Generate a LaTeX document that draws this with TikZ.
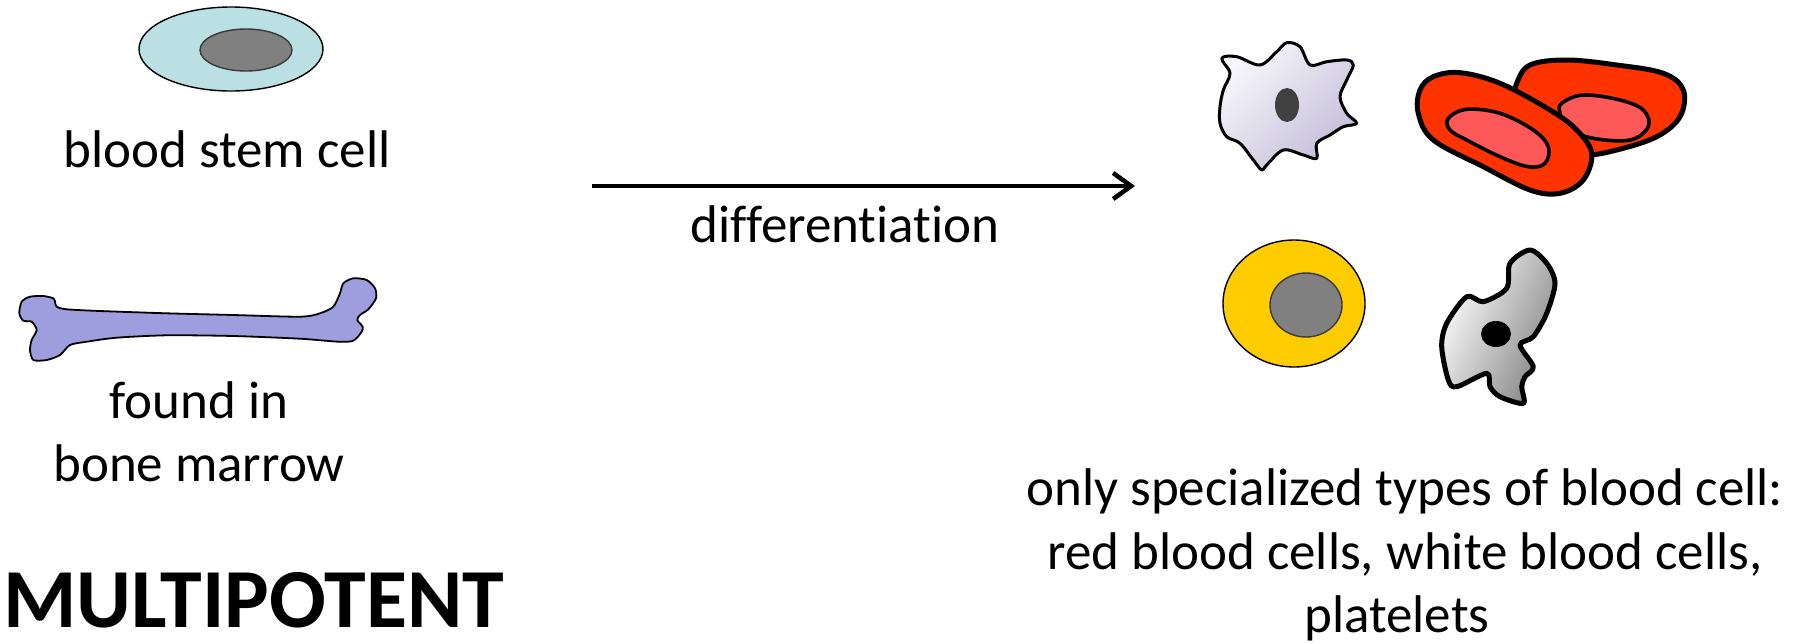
\documentclass[tikz,border=0pt]{standalone}
\usepackage{fontspec}
\setmainfont[Ligatures={NoCommon}, RawFeature={-liga}]{Carlito}
\usetikzlibrary{arrows.meta}

\definecolor{stemfill}{HTML}{BAE0E4}
\definecolor{nucgray}{HTML}{808080}
\definecolor{nucedge}{HTML}{3A3A3A}
\definecolor{bonefill}{HTML}{9E9EDE}
\definecolor{rbcouter}{HTML}{FF3300}
\definecolor{rbcinner}{HTML}{FF5858}
\definecolor{lymfill}{HTML}{FFCC00}
\definecolor{macrolight}{HTML}{F7F6FB}
\definecolor{macrodark}{HTML}{C3BDD8}
\definecolor{macronuc}{HTML}{404040}

\begin{document}
\begin{tikzpicture}[x=1pt,y=-1pt,
  caption/.style={font=\fontsize{53}{60}\selectfont, inner sep=0pt, anchor=base},
  title/.style={font=\bfseries\fontsize{84}{90}\selectfont, inner sep=0pt, anchor=base west},
  thinline/.style={draw=black, line width=1.4pt},
  cellline/.style={draw=black, line width=3pt, line join=round},
  innerline/.style={draw=black, line width=3.6pt, line join=round},
  heavyline/.style={draw=black, line width=5pt, line join=round},
  flow/.style={line width=4.5pt, -{Straight Barb[length=18pt,width=26pt]}}]

\useasboundingbox (0,0) rectangle (1801,643);

% ---------- blood stem cell ----------
\draw[thinline, fill=stemfill] (231,49) ellipse [x radius=92, y radius=42];
\draw[line width=1.4pt, draw=nucedge, fill=nucgray] (246,50) ellipse [x radius=46, y radius=21];
\node[caption] (stem) at (227,167) {blood stem cell};

% ---------- bone ----------
\draw[thinline, line width=1.8pt, fill=bonefill, line join=round]
  plot[smooth cycle, tension=0.45] coordinates {
   (56.7,306.7) (55,301.7) (53.3,298.3) (43.3,296) (30,296.7) (21.7,301.7)
   (19.3,313.3) (23.3,320.7) (31.7,321.7) (36.7,330) (31.7,340) (30,350)
   (33.3,360) (46.7,360) (60,355) (70,345) (86.7,341.7) (116.7,337.7)
   (166.7,335.3) (233.3,336) (300,338.7) (338.3,341.7) (353.3,340.7)
   (361.7,331.7) (362.7,326.7) (357.3,320) (360,315) (368.3,309.3)
   (376,298.3) (375,288.3) (366.7,280) (353.3,278.3) (343.3,283.3)
   (340,293.3) (333.3,306.7) (320,313.3) (300,316.7) (233.3,315)
   (166.7,313.3) (100,311) (66.7,309.3)};
\node[caption] (found) at (199,418) {found in};
\node[caption] (marrow) at (199,481) {bone marrow};

\node[title] (potency) at (3,627) {MULTIPOTENT};

% ---------- differentiation arrow ----------
\coordinate (from) at (592,186);
\coordinate (to) at (1135,186);
\draw[flow] (from) -- (to);
\node[caption] (diff) at (845,242) {differentiation};

% ---------- macrophage-like white cell ----------
\path[cellline, top color=macrolight, bottom color=macrodark, shading angle=45]
  plot[smooth cycle, tension=0.55] coordinates {
   (1221.7,58.3) (1236.7,56.7) (1260,65) (1276.7,51.7) (1286.7,42.7)
   (1300,46.7) (1310,65) (1326.7,61.7) (1346.7,60) (1353.3,65)
   (1346.7,80) (1340,96.7) (1346.7,113.3) (1356.7,123.3) (1343.3,126.7)
   (1330,135) (1316.7,143.3) (1316.7,158.3) (1303.3,155) (1283.3,150)
   (1266.7,165) (1261.7,170) (1253.3,160) (1240,143.3) (1226.7,136.7)
   (1220,123.3) (1220,106.7) (1223.3,90) (1230,73.3)};
\fill[macronuc] (1287,105) ellipse [x radius=12, y radius=17];

% ---------- red blood cells ----------
\draw[heavyline, fill=rbcouter]
  plot[smooth cycle, tension=0.6] coordinates {
   (1516.7,83.3) (1530,65) (1566.7,60) (1616.7,65) (1663.3,73.3)
   (1683.3,90) (1680,116.7) (1656.7,136.7) (1616.7,150) (1583.3,155)
   (1550,146.7) (1523.3,123.3) (1515,100)};
\draw[innerline, fill=rbcinner]
  plot[smooth cycle, tension=0.6] coordinates {
   (1561.7,103.3) (1583.3,95) (1620,100) (1643.3,110) (1648.3,126.7)
   (1630,140) (1593.3,138.3) (1566.7,128.3) (1560,113.3)};
\draw[heavyline, fill=rbcouter]
  plot[smooth cycle, tension=0.6] coordinates {
   (1433.3,76.7) (1460,72.7) (1500,83.3) (1550,110) (1576.7,130)
   (1591.7,153.3) (1583.3,180) (1560,193.3) (1530,190) (1483.3,166.7)
   (1433.3,140) (1418.3,113.3) (1420,90)};
\draw[innerline, fill=rbcinner]
  plot[smooth cycle, tension=0.6] coordinates {
   (1448.3,118.3) (1466.7,109.3) (1500,113.3) (1533.3,130) (1548.3,146.7)
   (1545,163.3) (1528.3,166.7) (1500,156.7) (1466.7,140) (1450,130)};

% ---------- lymphocyte ----------
\draw[thinline, fill=lymfill] (1294,303.5) ellipse [x radius=71, y radius=63.5];
\draw[line width=1.4pt, draw=nucedge, fill=nucgray] (1306,305) ellipse [x radius=36, y radius=32];

% ---------- grey irregular cell ----------
\path[heavyline, top color=white, middle color=white, bottom color=black!48, shading angle=65]
  plot[smooth cycle, tension=0.5] coordinates {
   (1510,263.3) (1530,250) (1546.7,263.3) (1555,283.3) (1546.7,313.3)
   (1533.3,336.7) (1520,345) (1533.3,366.7) (1525,376.7) (1521.7,386.7)
   (1523.3,403.3) (1500,396.7) (1490,386.7) (1486.7,373.3) (1456.7,386.7)
   (1448.3,380) (1441.7,346.7) (1446.7,323.3) (1466.7,296.7) (1483.3,301.7)
   (1506.7,288.3)};
\fill[black] (1496,334) ellipse [x radius=15, y radius=13];

% ---------- description ----------
\node[caption] (spec1) at (1405,505) {only specialized types of blood cell:};
\node[caption] (spec2) at (1405,569) {red blood cells, white blood cells,};
\node[caption] (spec3) at (1397,632) {platelets};

\end{tikzpicture}
\end{document}
